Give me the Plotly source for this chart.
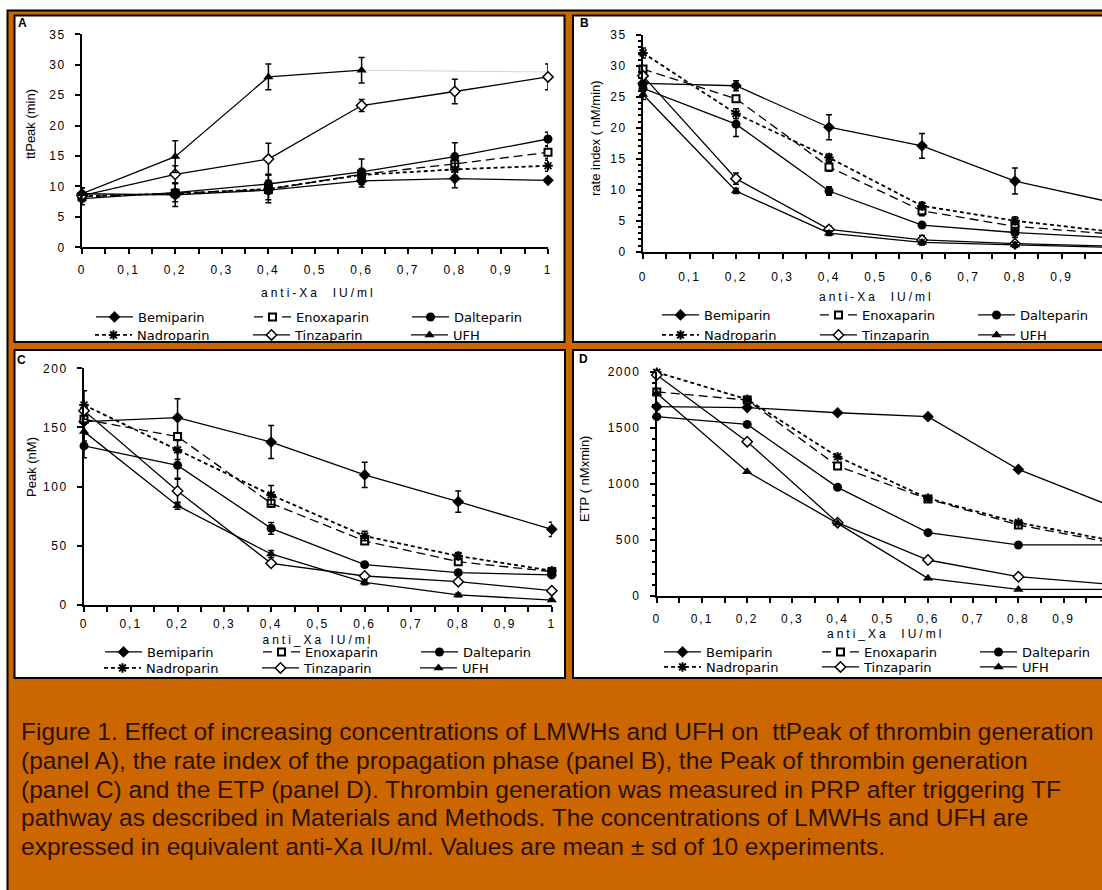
import plotly.graph_objects as go

W, H = 1102, 890

# ---------------- data ----------------
conc = [0, 0.2, 0.4, 0.6, 0.8, 1.0]
names = ["Bemiparin", "Enoxaparin", "Dalteparin", "Nadroparin", "Tinzaparin", "UFH"]

# Panel A - ttPeak (min)
a_bemi = [8.8, 8.6, 9.4, 10.9, 11.3, 11.0]
a_bemi_sd = [1.0, 1.9, 1.6, 1.0, 1.5, 0.3]
a_enox = [8.3, 8.9, 9.5, 12.0, 13.7, 15.6]
a_enox_sd = [0.5, 0.6, 0.6, 0.8, 1.3, 1.0]
a_dalt = [8.0, 9.0, 10.4, 12.4, 14.9, 17.8]
a_dalt_sd = [1.0, 1.5, 1.6, 2.1, 2.3, 1.1]
a_nadro = [8.4, 8.8, 9.6, 11.9, 12.8, 13.4]
a_nadro_sd = [0.5, 0.6, 2.3, 0.5, 1.0, 0.9]
a_tinz = [8.5, 12.0, 14.5, 23.3, 25.6, 28.0]
a_tinz_sd = [0.6, 1.4, 2.6, 1.0, 2.0, 2.1]
a_ufh = [8.8, 14.9, 28.0, 29.1]
a_ufh_sd = [1.0, 2.6, 2.1, 2.1]
a_ufh_ext_x = [0.6, 1.0]
a_ufh_ext = [29.1, 28.8]

# Panel B - rate index (nM/min)
b_bemi = [27.2, 26.8, 20.1, 17.1, 11.4, 8.1]
b_bemi_sd = [0.5, 0.8, 2.0, 2.0, 2.1, 1.0]
b_enox = [29.5, 24.7, 13.7, 6.6, 4.1, 2.9]
b_enox_sd = [0.5, 0.5, 0.7, 0.8, 0.6, 0.4]
b_dalt = [26.4, 20.6, 9.8, 4.3, 3.1, 2.3]
b_dalt_sd = [0.8, 2.0, 0.7, 0.4, 0.8, 0.4]
b_nadro = [32.1, 22.3, 15.2, 7.4, 5.0, 3.3]
b_nadro_sd = [0.8, 0.8, 0.6, 0.6, 0.6, 0.4]
b_tinz = [28.4, 11.8, 3.6, 1.9, 1.3, 0.9]
b_tinz_sd = [0.6, 0.9, 0.5, 0.7, 0.4, 0.3]
b_ufh = [25.4, 9.8, 3.0, 1.5, 1.1, 0.7]
b_ufh_sd = [0.8, 0.4, 0.4, 0.4, 0.4, 0.3]

# Panel C - Peak (nM)
c_bemi = [155.0, 158.3, 137.7, 109.9, 87.3, 63.9]
c_bemi_sd = [10, 16, 14, 10.7, 9, 6]
c_enox = [156.9, 142.3, 85.9, 54.1, 36.6, 28.2]
c_enox_sd = [4, 3, 3, 2, 2, 1.5]
c_dalt = [134.4, 118.0, 64.8, 34.1, 27.3, 25.4]
c_dalt_sd = [10, 11, 5, 2, 2, 1.5]
c_nadro = [169.0, 131.0, 93.0, 58.3, 41.4, 29.0]
c_nadro_sd = [12, 8, 8, 4, 3, 2]
c_tinz = [164.2, 96.3, 35.2, 24.5, 19.7, 12.1]
c_tinz_sd = [4, 10, 2, 2, 1.5, 1]
c_ufh = [146.5, 83.9, 43.1, 19.2, 8.5, 4.2]
c_ufh_sd = [8, 3, 3, 2, 1.5, 1]

# Panel D - ETP (nMxmin)
d_bemi = [1688, 1680, 1634, 1599, 1129, 810]
d_enox = [1820, 1747, 1159, 865, 633, 480]
d_dalt = [1599, 1530, 969, 565, 455, 455]
d_nadro = [1995, 1753, 1242, 871, 654, 500]
d_tinz = [1970, 1376, 654, 321, 172, 105]
d_ufh = [1807, 1108, 648, 158, 59, 60]

x_ticks = [0, 0.1, 0.2, 0.3, 0.4, 0.5, 0.6, 0.7, 0.8, 0.9, 1.0]

caption_lines = [
    "Figure 1. Effect of increasing concentrations of LMWHs and UFH on  ttPeak of thrombin generation",
    "(panel A), the rate index of the propagation phase (panel B), the Peak of thrombin generation",
    "(panel C) and the ETP (panel D). Thrombin generation was measured in PRP after triggering TF",
    "pathway as described in Materials and Methods. The concentrations of LMWHs and UFH are",
    "expressed in equivalent anti-Xa IU/ml. Values are mean \u00b1 sd of 10 experiments.",
]

# ---------------- styles ----------------
FONT = "Liberation Sans, Arial, sans-serif"
LFONT = "DejaVu Sans, Verdana, sans-serif"
ORANGE = "#CC6600"

def px(x):
    return x / W

def py(y):
    return 1 - y / H

styles = {
    "Bemiparin": dict(line=dict(color="black", width=1.3),
                      marker=dict(symbol="diamond", size=9, color="black")),
    "Enoxaparin": dict(line=dict(color="black", width=1.3, dash="9px,5px"),
                       marker=dict(symbol="square", size=7, color="white",
                                   line=dict(color="black", width=2))),
    "Dalteparin": dict(line=dict(color="black", width=1.3),
                       marker=dict(symbol="circle", size=9, color="black")),
    "Nadroparin": dict(line=dict(color="black", width=1.8, dash="4px,3px"),
                       marker=dict(symbol="asterisk-open", size=8, color="black",
                                   line=dict(color="black", width=2))),
    "Tinzaparin": dict(line=dict(color="black", width=1.3),
                       marker=dict(symbol="diamond", size=8, color="white",
                                   line=dict(color="black", width=1.5))),
    "UFH": dict(line=dict(color="black", width=1.3),
                marker=dict(symbol="triangle-up", size=9, color="black")),
}

panels = [
    dict(xa="x", ya="y",
         data=[a_bemi, a_enox, a_dalt, a_nadro, a_tinz, a_ufh],
         sd=[a_bemi_sd, a_enox_sd, a_dalt_sd, a_nadro_sd, a_tinz_sd, a_ufh_sd]),
    dict(xa="x2", ya="y2",
         data=[b_bemi, b_enox, b_dalt, b_nadro, b_tinz, b_ufh],
         sd=[b_bemi_sd, b_enox_sd, b_dalt_sd, b_nadro_sd, b_tinz_sd, b_ufh_sd]),
    dict(xa="x3", ya="y3",
         data=[c_bemi, c_enox, c_dalt, c_nadro, c_tinz, c_ufh],
         sd=[c_bemi_sd, c_enox_sd, c_dalt_sd, c_nadro_sd, c_tinz_sd, c_ufh_sd]),
    dict(xa="x4", ya="y4",
         data=[d_bemi, d_enox, d_dalt, d_nadro, d_tinz, d_ufh],
         sd=[None] * 6),
]

fig = go.Figure()

# light grey continuation of UFH in panel A (drawn first, underneath)
fig.add_trace(go.Scatter(x=a_ufh_ext_x, y=a_ufh_ext, mode="lines", xaxis="x", yaxis="y",
                         line=dict(color="#d4d4d4", width=1), showlegend=False,
                         hoverinfo="skip"))

for p, pan in enumerate(panels):
    for i, name in enumerate(names):
        vals = pan["data"][i]
        sd = pan["sd"][i]
        row = 0 if i < 3 else 1
        idx = p * 2 + row + 1
        lg = "legend" if idx == 1 else f"legend{idx}"
        st = styles[name]
        kw = {}
        if sd is not None:
            kw["error_y"] = dict(type="data", array=sd, visible=True, color="black",
                                 thickness=1.5, width=3)
        fig.add_trace(go.Scatter(
            x=conc[:len(vals)], y=vals, name=name, mode="lines+markers",
            xaxis=pan["xa"], yaxis=pan["ya"], legend=lg, cliponaxis=False,
            line=st["line"], marker=st["marker"], **kw))

# ---------------- axes ----------------
tickfont = dict(family=FONT, size=12, color="black")

def xaxis(domain, rng, anchor, standoff):
    return dict(domain=domain, range=rng, anchor=anchor, showline=True, linecolor="black",
                linewidth=2, ticks="outside", ticklen=5, tickwidth=2, tickcolor="black",
                tickvals=x_ticks, showgrid=False, zeroline=False, tickfont=tickfont,
                ticklabelstandoff=standoff,
                minor=dict(dtick=0.05, tick0=0, ticks="outside", ticklen=5, tickwidth=2,
                           tickcolor="black", showgrid=False))

def yaxis(domain, rng, anchor, dtick, minor_dtick, standoff):
    d = dict(domain=domain, range=rng, anchor=anchor, showline=True, linecolor="black",
             linewidth=2, ticks="outside", ticklen=5, tickwidth=2, tickcolor="black",
             dtick=dtick, tick0=0, showgrid=False, zeroline=False, tickfont=tickfont,
             ticklabelstandoff=standoff)
    if minor_dtick:
        d["minor"] = dict(dtick=minor_dtick, tick0=0, ticks="outside", ticklen=3,
                          tickwidth=1.5, tickcolor="black", showgrid=False)
    return d

# pixel geometry of the four plot areas
A_x0, A_x1, A_yt, A_yb = 82, 548, 34.3, 247.3
B_x0, B_yt, B_yb, B_per = 643, 35, 251.7, 465
C_x0, C_x1, C_yt, C_yb = 84, 551.8, 368.3, 605
D_x0, D_yt, D_yb, D_per = 656.8, 371.7, 596, 452

layout = dict(
    width=W, height=H, margin=dict(l=0, r=0, t=0, b=0, autoexpand=False),
    paper_bgcolor="white", plot_bgcolor="rgba(0,0,0,0)",
    separators=",.", showlegend=True,
    xaxis=xaxis([px(A_x0), px(A_x1)], [0, 1.0], "y", 5),
    yaxis=yaxis([py(A_yb), py(A_yt)], [0, 35], "x", 5, None, 7),
    xaxis2=xaxis([px(B_x0), 1.0], [0, (W - B_x0) / B_per], "y2", 8),
    yaxis2=yaxis([py(B_yb), py(B_yt)], [0, 35], "x2", 5, 1, 7),
    xaxis3=xaxis([px(C_x0), px(C_x1)], [0, 1.0], "y3", 2),
    yaxis3=yaxis([py(C_yb), py(C_yt)], [0, 200], "x3", 50, None, 7),
    xaxis4=xaxis([px(D_x0), 1.0], [0, (W - D_x0) / D_per], "y4", 6),
    yaxis4=yaxis([py(D_yb), py(D_yt)], [0, 2000], "x4", 500, 100, 7),
)

# legends: two rows per panel, three columns each
legend_pos = {
    1: (96, 317), 2: (95, 335),
    3: (662, 315), 4: (662, 335),
    5: (105, 652), 6: (104, 668),
    7: (664, 652), 8: (664, 667),
}
for idx, (lx, ly) in legend_pos.items():
    key = "legend" if idx == 1 else f"legend{idx}"
    layout[key] = dict(orientation="h", x=px(lx - 5), y=py(ly), xanchor="left", yanchor="middle",
                       entrywidth=106, entrywidthmode="pixels", itemwidth=37,
                       font=dict(family=LFONT, size=13, color="black"),
                       bgcolor="rgba(0,0,0,0)", borderwidth=0, tracegroupgap=0,
                       traceorder="normal")

# ---------------- frames ----------------
shapes = [
    dict(type="rect", xref="paper", yref="paper", x0=px(7.5), x1=1.2, y0=-0.2, y1=py(10.5),
         fillcolor=ORANGE, line=dict(color="black", width=2), layer="below"),
]
for (x0, y0, x1, y1) in [(14.5, 15.5, 564.5, 342), (573, 15.5, 1160, 342),
                         (14.5, 350, 565, 678), (573, 350, 1160, 678)]:
    shapes.append(dict(type="rect", xref="paper", yref="paper", x0=px(x0), x1=px(x1),
                       y0=py(y1), y1=py(y0), fillcolor="white",
                       line=dict(color="black", width=2), layer="below"))
layout["shapes"] = shapes

ann = []
def add_text(text, x, y, size=12, bold=False, angle=0, xanchor="center", yanchor="middle",
             color="black", align="center", family=FONT):
    ann.append(dict(text=f"<b>{text}</b>" if bold else text, x=px(x), y=py(y), xref="paper",
                    yref="paper", showarrow=False, textangle=angle, xanchor=xanchor,
                    yanchor=yanchor, align=align, borderpad=0,
                    font=dict(family=family, size=size, color=color)))

# x-axis titles (indices 0-3, letter-spaced later)
add_text("anti-Xa  IU/ml", 318, 293, 12)
add_text("anti-Xa  IU/ml", 876, 297, 12)
add_text("anti_Xa IU/ml", 318, 640, 12)
add_text("anti_Xa  IU/ml", 885, 634, 12)
# panel letters
add_text("A", 22, 23, 12, bold=True)
add_text("B", 584, 23, 12, bold=True)
add_text("C", 21, 360, 12, bold=True)
add_text("D", 583, 359, 12, bold=True)
# y-axis titles
add_text("ttPeak (min)", 31, 124, 13, angle=-90)
add_text("rate index ( nM/min)", 595, 138, 13, angle=-90)
add_text("Peak (nM)", 31, 467, 13, angle=-90)
add_text("ETP ( nMxmin)", 584, 479, 13, angle=-90)
# caption, one annotation per printed line
for k, (line, yc) in enumerate(zip(caption_lines, [731, 760, 789, 817, 846])):
    add_text(line, 20, yc, 24.5, xanchor="left", color="#2b1100", align="left")
layout["annotations"] = ann

fig.update_layout(**layout)

post = """
document.body.style.margin = '0';
document.body.style.overflow = 'hidden';
var gd = document.getElementById('{plot_id}');
function sp(sel, v){ gd.querySelectorAll(sel).forEach(function(t){ t.style.letterSpacing = v; }); }
function spacing(){
  sp('g.xaxislayer-above text', '2px');
  sp('g.yaxislayer-above text', '1.5px');
  gd.querySelectorAll('g.annotation').forEach(function(g){
    var i = +g.getAttribute('data-index');
    if (i >= 0 && i <= 3) { var t = g.querySelector('text'); if (t) t.style.letterSpacing = '3px'; }
  });
}
spacing();
setTimeout(spacing, 50);
setTimeout(spacing, 300);
"""

fig.write_html("out.html", post_script=post, config={"displayModeBar": False})
